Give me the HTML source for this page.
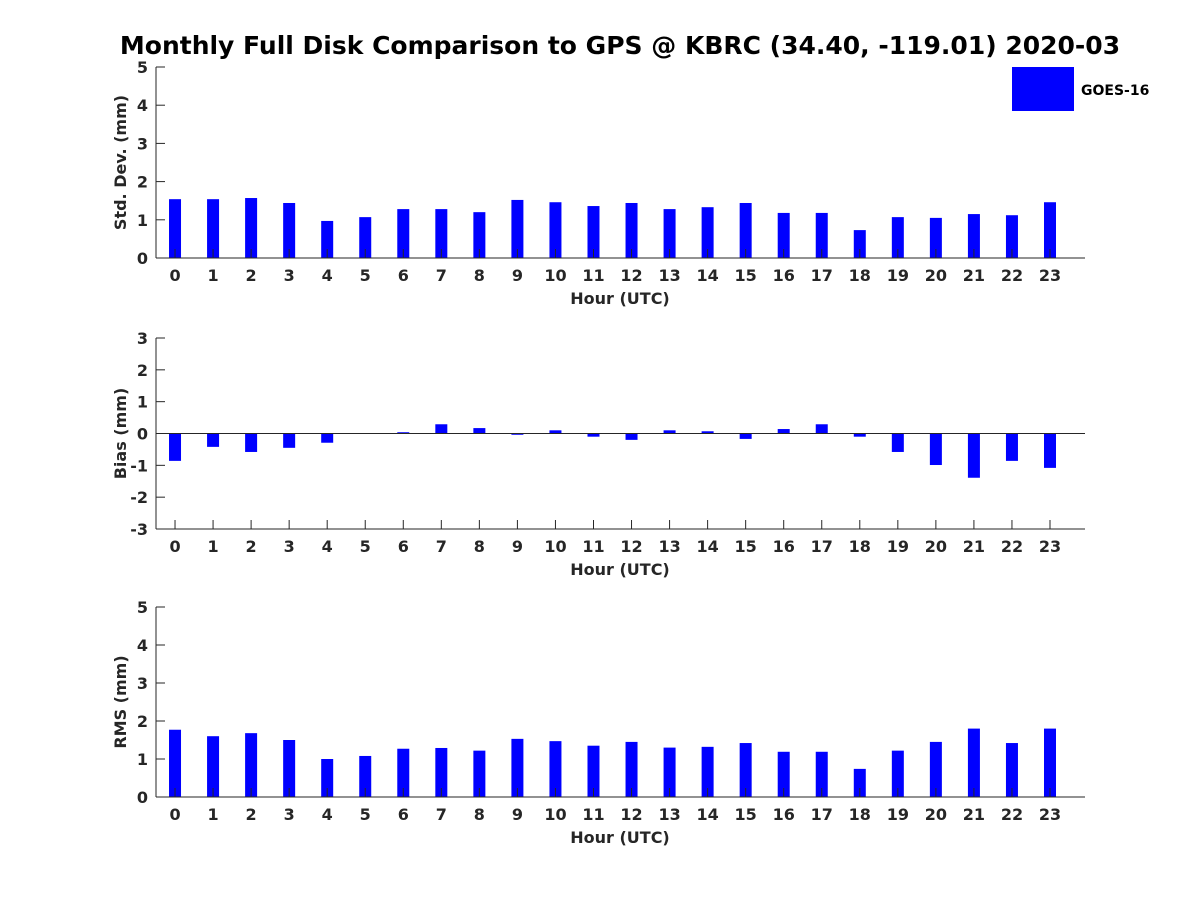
<!DOCTYPE html>
<html><head><meta charset="utf-8"><style>
html,body{margin:0;padding:0;background:#fff;}
svg{display:block;font-family:"DejaVu Sans","Liberation Sans",sans-serif;font-weight:bold;}
</style></head><body>
<svg id="chart" width="1200" height="900" viewBox="0 0 1200 900">
<text x="620" y="54" text-anchor="middle" font-size="25" fill="#000">Monthly Full Disk Comparison to GPS @ KBRC (34.40, -119.01) 2020-03</text>
<g>
<rect x="1012" y="67" width="62" height="44" fill="#0000ff"/>
<text x="1081" y="95" font-size="14" fill="#000">GOES-16</text>
</g>
</svg>
<script>
const hours=[0,1,2,3,4,5,6,7,8,9,10,11,12,13,14,15,16,17,18,19,20,21,22,23];
const stdValues=[1.54,1.54,1.57,1.44,0.97,1.07,1.28,1.28,1.2,1.52,1.46,1.36,1.44,1.28,1.33,1.44,1.18,1.18,0.73,1.07,1.05,1.15,1.12,1.46];
const biasValues=[-0.86,-0.42,-0.58,-0.45,-0.29,-0.01,0.04,0.29,0.17,-0.04,0.1,-0.1,-0.2,0.1,0.07,-0.17,0.14,0.29,-0.1,-0.58,-0.99,-1.39,-0.86,-1.08];
const rmsValues=[1.77,1.6,1.68,1.5,1.0,1.08,1.27,1.29,1.22,1.53,1.47,1.35,1.45,1.3,1.32,1.42,1.19,1.19,0.74,1.22,1.45,1.8,1.42,1.8];
const stdTicks=[0,1,2,3,4,5];
const biasTicks=[-3,-2,-1,0,1,2,3];
const rmsTicks=[0,1,2,3,4,5];
const svg=document.getElementById('chart');
const NS='http://www.w3.org/2000/svg';
function mk(tag,attrs,parent){const e=document.createElementNS(NS,tag);for(const k in attrs)e.setAttribute(k,attrs[k]);(parent||svg).appendChild(e);return e;}
const X0=156,X1=1085;
function xs(h){return X0+(h+0.5)/24.42*(X1-X0);}
const panels=[
 {name:'std-dev',vals:stdValues,ticks:stdTicks,min:0,max:5,top:67,bot:258,label:'Std. Dev. (mm)'},
 {name:'bias',vals:biasValues,ticks:biasTicks,min:-3,max:3,top:338,bot:529,label:'Bias (mm)'},
 {name:'rms',vals:rmsValues,ticks:rmsTicks,min:0,max:5,top:607,bot:797,label:'RMS (mm)'}
];
panels.forEach(p=>{
 const g=mk('g',{});
 
 
 const ys=v=>p.bot-(v-p.min)/(p.max-p.min)*(p.bot-p.top);
 hours.forEach((h,i)=>{
  const v=p.vals[i];const y0=ys(0),y1=ys(v);
  const r=mk('rect',{x:xs(h)-6,y:Math.min(y0,y1),width:12,height:Math.abs(y1-y0),fill:'#0000ff'},g);
  
  
 });
 const ax=mk('g',{},g);
 
 
 mk('line',{x1:X0,y1:p.top,x2:X0,y2:p.bot,stroke:'#262626','stroke-width':1},ax);
 mk('line',{x1:X0,y1:p.bot,x2:X1,y2:p.bot,stroke:'#262626','stroke-width':1},ax);
 if(p.min<0)mk('line',{x1:X0,y1:ys(0),x2:X1,y2:ys(0),stroke:'#262626','stroke-width':1},ax);
 p.ticks.forEach(t=>{
  mk('line',{x1:X0,y1:ys(t),x2:X0+9,y2:ys(t),stroke:'#262626'},ax);
  const tx=mk('text',{x:X0-8,y:ys(t)+6,'text-anchor':'end','font-size':16,fill:'#262626'},ax);
  tx.textContent=t;
  
  
 });
 hours.forEach(h=>{
  mk('line',{x1:xs(h),y1:p.bot,x2:xs(h),y2:p.bot-9,stroke:'#262626'},ax);
  const tx=mk('text',{x:xs(h),y:p.bot+23,'text-anchor':'middle','font-size':16,fill:'#262626'},ax);
  tx.textContent=h;
  
  
 });
 const xl=mk('text',{x:620,y:p.bot+46,'text-anchor':'middle','font-size':16,fill:'#262626'},ax);
 xl.textContent='Hour (UTC)';
 
 
 const cy=(p.top+p.bot)/2;
 const yl=mk('text',{x:126,y:cy,'text-anchor':'middle','font-size':16,fill:'#262626',transform:'rotate(-90 126 '+cy+')'},ax);
 yl.textContent=p.label;
 
 
});
</script>
</body></html>
